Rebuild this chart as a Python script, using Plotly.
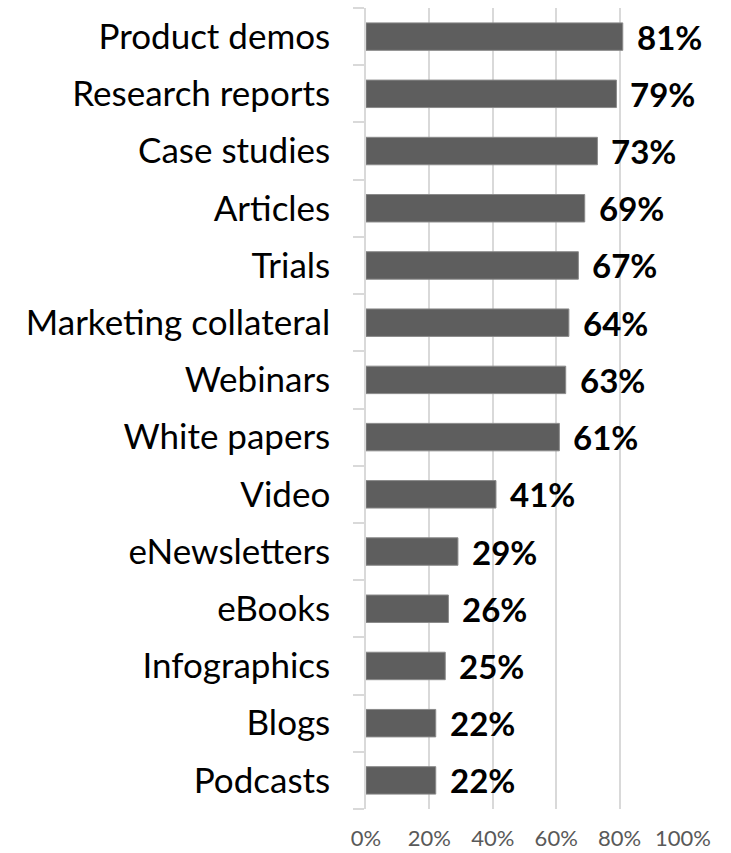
import plotly.graph_objects as go

categories = ["Product demos", "Research reports", "Case studies", "Articles", "Trials",
              "Marketing collateral", "Webinars", "White papers", "Video", "eNewsletters",
              "eBooks", "Infographics", "Blogs", "Podcasts"]
values = [81, 79, 73, 69, 67, 64, 63, 61, 41, 29, 26, 25, 22, 22]
tick_vals = [0, 20, 40, 60, 80, 100]
tick_text = ["0%", "20%", "40%", "60%", "80%", "100%"]

FONT = "Lato, Open Sans, sans-serif"

# reverse so the first category sits at the top
cats = categories[::-1]
vals = values[::-1]

fig = go.Figure(go.Bar(
    x=vals, y=cats, orientation="h",
    marker=dict(color="#5e5e5e", line=dict(color="#8a8a8a", width=1)),
    width=0.48,
    hoverinfo="skip",
))

for c, v in zip(cats, vals):
    fig.add_annotation(x=v, y=c, text=f"<b>{v}%</b>", showarrow=False,
                       xanchor="left", xshift=12, yshift=0,
                       font=dict(family=FONT, size=33, color="#000000"))

fig.update_layout(
    width=731, height=853,
    margin=dict(l=366, r=48, t=8, b=44),
    plot_bgcolor="white", paper_bgcolor="white",
    showlegend=False,
    font=dict(family=FONT),
)
fig.update_xaxes(range=[0, 100], tickvals=tick_vals, ticktext=tick_text,
                 showgrid=True, gridcolor="#d9d9d9", gridwidth=1.5,
                 zeroline=False, showline=False, ticks="",
                 tickfont=dict(family=FONT, size=22, color="#595959"),
                 ticklabelstandoff=14, automargin=False)
fig.update_yaxes(showgrid=False, showline=True, linecolor="#d9d9d9", linewidth=1.5,
                 ticks="outside", ticklen=11, tickcolor="#d9d9d9", tickwidth=1.5,
                 tickson="boundaries", ticklabelstandoff=27, automargin=False,
                 tickfont=dict(family=FONT, size=35, color="#000000"))

fig.write_html("out.html")
